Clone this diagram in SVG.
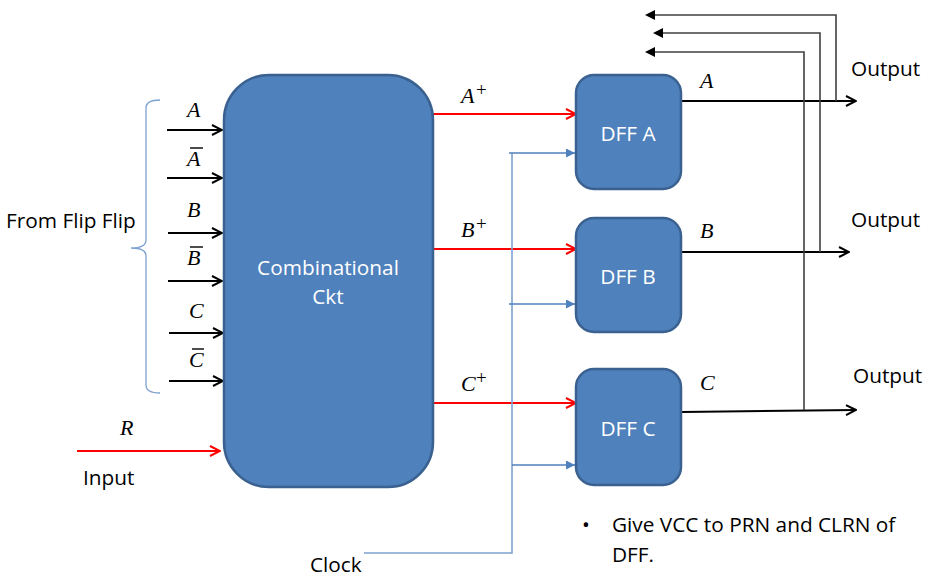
<svg xmlns="http://www.w3.org/2000/svg" width="933" height="585" viewBox="0 0 933 585">
<defs>
<marker id="openBlack" viewBox="0 0 12 12" refX="11" refY="6" markerWidth="12" markerHeight="12" markerUnits="userSpaceOnUse" orient="auto">
<path d="M1,1 L11,6 L1,11" fill="none" stroke="#000" stroke-width="2"/>
</marker>
<marker id="openRed" viewBox="0 0 12 12" refX="11" refY="6" markerWidth="12" markerHeight="12" markerUnits="userSpaceOnUse" orient="auto">
<path d="M1,1 L11,6 L1,11" fill="none" stroke="#FF0000" stroke-width="2"/>
</marker>
<marker id="triBlue" viewBox="0 0 10 10" refX="10" refY="5" markerWidth="9" markerHeight="9" markerUnits="userSpaceOnUse" orient="auto">
<path d="M0,0 L10,5 L0,10 Z" fill="#4F81BD"/>
</marker>
<marker id="triGray" viewBox="0 0 10 10" refX="0" refY="5" markerWidth="10" markerHeight="10" markerUnits="userSpaceOnUse" orient="auto-start-reverse">
<path d="M0,0 L10,5 L0,10 Z" fill="#000"/>
</marker>
</defs>
<style>
.box{fill:#4F81BD;stroke:#3B6190;stroke-width:2.5}
.wt{font-family:"Open Sans","Liberation Sans",sans-serif;font-size:20.8px;fill:#fff;text-anchor:middle}
.bt{font-family:"Open Sans","Liberation Sans",sans-serif;font-size:20.8px;fill:#000}
.mt{font-family:"Liberation Serif","DejaVu Serif",serif;font-style:italic;font-size:22px;fill:#000}
.sup{font-family:"Liberation Serif","DejaVu Serif",serif;font-size:19px;fill:#000}
.blk{stroke:#000;stroke-width:2;fill:none;marker-end:url(#openBlack)}
.red{stroke:#FF0000;stroke-width:2;fill:none;marker-end:url(#openRed)}
.clk{stroke:#7DA1D0;stroke-width:1.6;fill:none}
.clkA{stroke:#4F81BD;stroke-width:1.6;fill:none;marker-end:url(#triBlue)}
.fb{stroke:#404040;stroke-width:1.6;fill:none;marker-end:url(#triGray)}
.bar{stroke:#000;stroke-width:1.4}
</style>

<g id="connectors">
<line class="blk" x1="167" y1="130" x2="222" y2="130"/>
<line class="blk" x1="167" y1="178" x2="222" y2="178"/>
<line class="blk" x1="168" y1="233" x2="222" y2="233"/>
<line class="blk" x1="168" y1="281" x2="222" y2="281"/>
<line class="blk" x1="169" y1="333" x2="223" y2="333"/>
<line class="blk" x1="169" y1="381" x2="223" y2="381"/>
<line class="red" x1="77" y1="451" x2="220" y2="451"/>
<line class="red" x1="433" y1="114" x2="576" y2="114"/>
<line class="red" x1="433" y1="249" x2="576" y2="249"/>
<line class="red" x1="433" y1="403" x2="576" y2="403"/>
<polyline class="clk" points="364,553 512,553 512,153"/>
<line class="clkA" x1="509" y1="153" x2="575" y2="153"/>
<line class="clkA" x1="509" y1="304" x2="575" y2="304"/>
<line class="clkA" x1="512" y1="465" x2="575" y2="465"/>
<line class="blk" x1="682" y1="101" x2="856" y2="101"/>
<line class="blk" x1="682" y1="252" x2="849" y2="252"/>
<line class="blk" x1="682" y1="412" x2="856" y2="410"/>
<polyline class="fb" points="836,101 836,15 655,15"/>
<polyline class="fb" points="820,252 820,33 663,33"/>
<polyline class="fb" points="804,410 804,52 655,52"/>
<path d="M160,100 Q146,100 146,108 L146,240 Q146,248 131,248 Q146,248 146,256 L146,385 Q146,393 160,393" fill="none" stroke="#7DA1D0" stroke-width="1.3"/>
</g>

<g id="comb">
<rect class="box" x="224" y="75" width="209" height="412" rx="45" ry="45"/>
<text class="wt" x="328" y="275">Combinational</text>
<text class="wt" x="328" y="304">Ckt</text>
</g>
<g id="dffA">
<rect class="box" x="576" y="75" width="105" height="114" rx="18" ry="18"/>
<text class="wt" x="628" y="141">DFF A</text>
</g>
<g id="dffB">
<rect class="box" x="576" y="218" width="105" height="114" rx="18" ry="18"/>
<text class="wt" x="628" y="284">DFF B</text>
</g>
<g id="dffC">
<rect class="box" x="576" y="369" width="105" height="116" rx="18" ry="18"/>
<text class="wt" x="628" y="436">DFF C</text>
</g>

<g id="labels">
<text class="mt" x="187" y="117">A</text>
<text class="mt" x="187" y="166">A</text>
<line class="bar" x1="190" y1="148" x2="203" y2="148"/>
<text class="mt" x="187" y="217">B</text>
<text class="mt" x="187" y="265">B</text>
<line class="bar" x1="190" y1="247" x2="203" y2="247"/>
<text class="mt" x="189" y="318">C</text>
<text class="mt" x="189" y="367">C</text>
<line class="bar" x1="192" y1="349" x2="204" y2="349"/>
<text class="mt" x="120" y="435">R</text>
<text class="bt" x="83" y="485">Input</text>
<text class="bt" x="6" y="228">From Flip Flip</text>

<text class="mt" x="461" y="103">A</text><text class="sup" x="476" y="96">+</text>
<text class="mt" x="461" y="237">B</text><text class="sup" x="476" y="230">+</text>
<text class="mt" x="461" y="391">C</text><text class="sup" x="476" y="384">+</text>

<text class="mt" x="700" y="88">A</text>
<text class="mt" x="700" y="238">B</text>
<text class="mt" x="700" y="390">C</text>
<text class="bt" x="851" y="76">Output</text>
<text class="bt" x="851" y="227">Output</text>
<text class="bt" x="853" y="383">Output</text>

<text class="bt" x="310" y="572">Clock</text>
<text class="bt" x="582" y="532">•</text>
<text class="bt" x="612" y="532">Give VCC to PRN and CLRN of</text>
<text class="bt" x="612" y="562">DFF.</text>
</g>
</svg>
